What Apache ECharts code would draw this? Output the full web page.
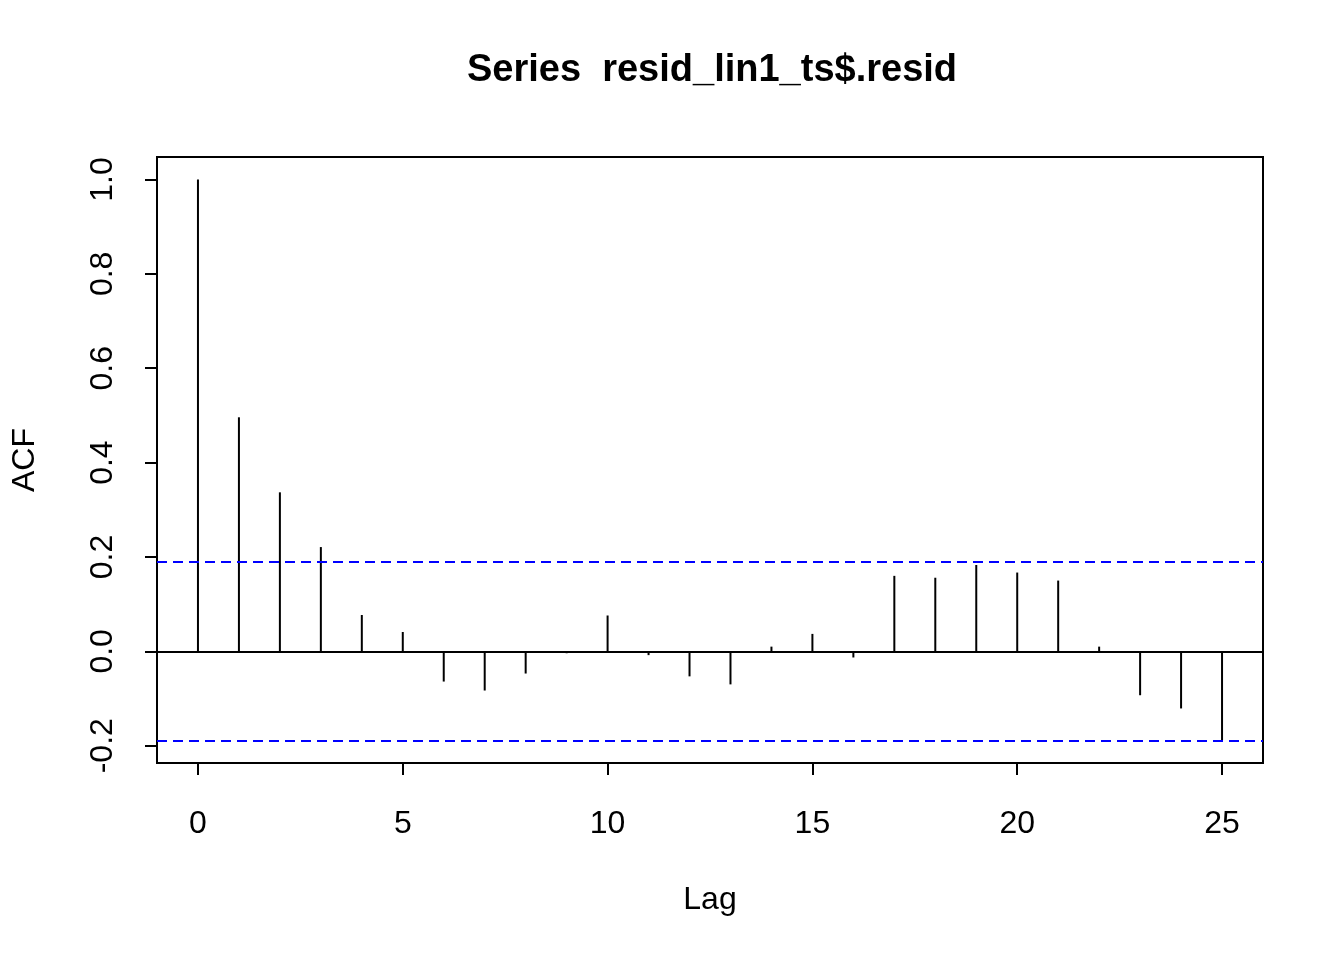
<!DOCTYPE html>
<html>
<head>
<meta charset="utf-8">
<script src="https://cdn.jsdelivr.net/npm/echarts@6/dist/echarts.min.js"></script>
<style>html,body{margin:0;padding:0;background:#fff}#c{width:1344px;height:960px}</style>
</head>
<body>
<div id="c"></div>
<script>
const lags = [0,1,2,3,4,5,6,7,8,9,10,11,12,13,14,15,16,17,18,19,20,21,22,23,24,25];
const acfValues = [1.0, 0.496, 0.337, 0.221, 0.077, 0.041, -0.064, -0.083, -0.047, -0.004, 0.076, -0.008, -0.053, -0.070, 0.010, 0.037, -0.013, 0.160, 0.156, 0.183, 0.167, 0.150, 0.010, -0.093, -0.121, -0.189];
const ciBound = 0.187;
const xTicks = [0,5,10,15,20,25];
const yTicks = [-0.2,0,0.2,0.4,0.6,0.8,1.0];

const FONT = 'Liberation Sans, Arial, sans-serif';
const chart = echarts.init(document.getElementById('c'), null, {renderer:'canvas'});
chart.setOption({
  animation: false,
  backgroundColor: '#fff',
  title: {
    text: 'Series  resid_lin1_ts$.resid',
    left: 707, top: 47, textAlign: 'center',
    textStyle: {fontFamily: FONT, fontSize: 38, fontWeight: 'bold', color: '#000'}
  },
  grid: {left:157, right:81, top:157, bottom:197, show:true, borderColor:'#000', borderWidth:2, backgroundColor:'transparent'},
  xAxis: {
    type:'value', min:-1, max:26,
    name:'Lag', nameLocation:'middle', nameGap:121,
    nameTextStyle:{fontFamily:FONT, fontSize:32, color:'#000'},
    axisLine:{show:false, onZero:false},
    splitLine:{show:false},
    axisTick:{show:true, length:12, inside:false, customValues:xTicks, lineStyle:{color:'#000', width:2}},
    axisLabel:{customValues:xTicks, margin:45, fontFamily:FONT, fontSize:32, color:'#000'}
  },
  yAxis: {
    type:'value', min:-0.2366, max:1.0476,
    name:'ACF', nameLocation:'middle', nameGap:116, nameRotate:90,
    nameTextStyle:{fontFamily:FONT, fontSize:32, color:'#000'},
    axisLine:{show:false, onZero:false},
    splitLine:{show:false},
    axisTick:{show:true, length:12, inside:false, customValues:yTicks, lineStyle:{color:'#000', width:2}},
    axisLabel:{customValues:yTicks, rotate:90, margin:38, fontFamily:FONT, fontSize:32, color:'#000',
      formatter: v => v.toFixed(1)}
  },
  series: [{
    type:'bar',
    data: lags.map((l,i)=>[l, acfValues[i]]),
    barWidth: 2,
    itemStyle:{color:'#000'},
    markLine:{
      silent:true, symbol:['none','none'], label:{show:false},
      data:[
        {yAxis:0, lineStyle:{color:'#000', type:'solid', width:2}},
        {yAxis:ciBound, lineStyle:{color:'#0000FF', type:[10,6], width:2}},
        {yAxis:-ciBound, lineStyle:{color:'#0000FF', type:[10,6], width:2}}
      ]
    }
  }]
});
</script>
</body>
</html>
